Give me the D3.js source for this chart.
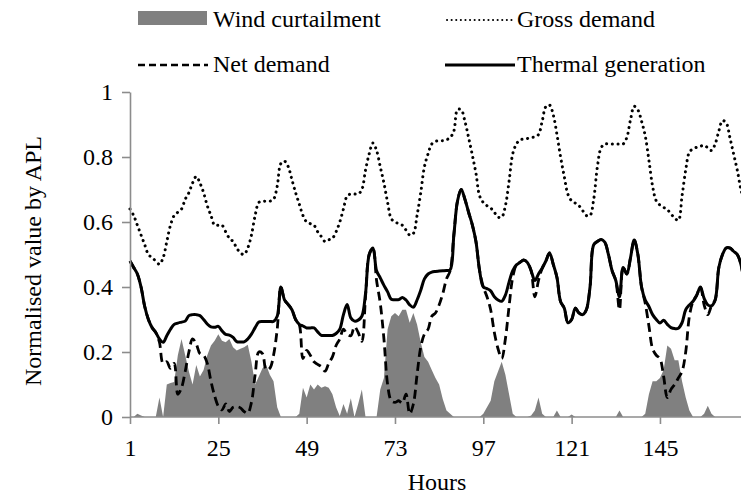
<!DOCTYPE html>
<html lang="en">
<head>
<meta charset="UTF-8">
<title>Wind curtailment</title>
<style>
  body { margin: 0; background: #fff; }
  svg text { font-family: "Liberation Serif", "Times New Roman", serif; fill: #000; }
</style>
</head>
<body>
<script src="https://d3js.org/d3.v7.min.js"></script>
<script>
// hours of the week
const hours = d3.range(1, 169);
const xTicks = [1, 25, 49, 73, 97, 121, 145];
const yTicks = [0, 0.2, 0.4, 0.6, 0.8, 1];

const windCurtailment = [
  0, 0, 0.01, 0.005, 0, 0, 0, 0, 0.06, 0,
  0.10, 0.105, 0.108, 0.19, 0.24, 0.19, 0.14, 0.10, 0.16, 0.125,
  0.145, 0.19, 0.22, 0.235, 0.255, 0.235, 0.23, 0.24, 0.215, 0.205,
  0.21, 0.215, 0.222, 0.17, 0.10, 0.125, 0.15, 0.16, 0.13, 0.11,
  0.03, 0, 0, 0, 0, 0, 0.01, 0.09, 0.06, 0.10,
  0.085, 0.10, 0.09, 0.095, 0.09, 0.07, 0.03, 0.003, 0.04, 0.01,
  0.058, 0, 0.04, 0.085, 0, 0, 0, 0, 0.085, 0.12,
  0.27, 0.31, 0.32, 0.31, 0.33, 0.33, 0.29, 0.32, 0.285, 0.23,
  0.185, 0.17, 0.145, 0.12, 0.10, 0.055, 0.02, 0.01, 0, 0,
  0, 0, 0, 0, 0, 0, 0.01, 0.03, 0.05, 0.11,
  0.14, 0.17, 0.13, 0.07, 0.01, 0, 0, 0, 0, 0.005,
  0.02, 0.06, 0.01, 0, 0, 0, 0.02, 0, 0, 0,
  0.008, 0, 0, 0, 0, 0, 0, 0, 0, 0,
  0, 0, 0, 0.02, 0, 0, 0, 0, 0, 0,
  0.01, 0.07, 0.11, 0.11, 0.12, 0.145, 0.22, 0.21, 0.175, 0.175,
  0.11, 0.06, 0.02, 0, 0, 0, 0.01, 0.035, 0.01, 0,
  0, 0, 0, 0, 0, 0, 0, 0
];

const grossDemand = [
  0.64, 0.62, 0.59, 0.56, 0.53, 0.50, 0.49, 0.48, 0.47, 0.49,
  0.54, 0.59, 0.62, 0.63, 0.64, 0.67, 0.69, 0.72, 0.74, 0.72,
  0.69, 0.65, 0.62, 0.59, 0.59, 0.59, 0.57, 0.55, 0.54, 0.52,
  0.505, 0.50, 0.52, 0.56, 0.62, 0.66, 0.664, 0.664, 0.664, 0.67,
  0.71, 0.78, 0.787, 0.77, 0.73, 0.69, 0.655, 0.62, 0.60, 0.595,
  0.59, 0.57, 0.555, 0.54, 0.545, 0.55, 0.57, 0.60, 0.64, 0.68,
  0.686, 0.686, 0.686, 0.70, 0.76, 0.81, 0.843, 0.82, 0.77, 0.72,
  0.66, 0.61, 0.60, 0.595, 0.59, 0.575, 0.56, 0.565, 0.62, 0.69,
  0.77, 0.81, 0.84, 0.848, 0.85, 0.85, 0.853, 0.86, 0.88, 0.946,
  0.945, 0.91, 0.86, 0.807, 0.75, 0.68, 0.66, 0.65, 0.643, 0.63,
  0.615, 0.615, 0.65, 0.725, 0.81, 0.84, 0.853, 0.855, 0.857, 0.86,
  0.862, 0.869, 0.91, 0.955, 0.96, 0.93, 0.87, 0.80, 0.74, 0.685,
  0.665, 0.658, 0.65, 0.635, 0.62, 0.62, 0.67, 0.77, 0.828, 0.84,
  0.84, 0.84, 0.84, 0.84, 0.84, 0.86, 0.915, 0.956, 0.945, 0.91,
  0.865, 0.79, 0.71, 0.665, 0.652, 0.645, 0.638, 0.625, 0.612, 0.605,
  0.68, 0.76, 0.815, 0.825, 0.83, 0.833, 0.836, 0.828, 0.82, 0.84,
  0.88, 0.912, 0.905, 0.86, 0.81, 0.76, 0.70, 0.66
];

const netDemand = [
  0.48, 0.46, 0.44, 0.40, 0.34, 0.30, 0.275, 0.26, 0.23, 0.165,
  0.17, 0.15, 0.165, 0.07, 0.09, 0.14, 0.20, 0.24, 0.225, 0.195,
  0.19, 0.165, 0.11, 0.065, 0.033, 0.022, 0.04, 0.017, 0.03, 0.032,
  0.028, 0.017, 0.012, 0.045, 0.13, 0.20, 0.195, 0.145, 0.15, 0.19,
  0.27, 0.40, 0.36, 0.346, 0.33, 0.30, 0.284, 0.18, 0.205, 0.19,
  0.17, 0.162, 0.155, 0.141, 0.165, 0.185, 0.22, 0.24, 0.27, 0.255,
  0.25, 0.278, 0.26, 0.233, 0.37, 0.50, 0.52, 0.42, 0.35, 0.24,
  0.10, 0.05, 0.045, 0.05, 0.043, 0.07, 0.01, 0.04, 0.13, 0.215,
  0.255, 0.27, 0.31, 0.32, 0.345, 0.38, 0.425, 0.45, 0.56, 0.665,
  0.70, 0.67, 0.63, 0.592, 0.54, 0.45, 0.40, 0.37, 0.33, 0.26,
  0.21, 0.18, 0.24, 0.34, 0.43, 0.468, 0.476, 0.483, 0.475, 0.45,
  0.37, 0.42, 0.458, 0.48, 0.505, 0.47, 0.43, 0.355, 0.335, 0.29,
  0.30, 0.335, 0.32, 0.315, 0.33, 0.40, 0.53, 0.54, 0.546, 0.538,
  0.50, 0.45, 0.42, 0.33, 0.46, 0.44, 0.49, 0.545, 0.50, 0.40,
  0.35, 0.28, 0.21, 0.19, 0.18, 0.125, 0.06, 0.085, 0.10, 0.12,
  0.14, 0.20, 0.31, 0.356, 0.375, 0.40, 0.345, 0.315, 0.342, 0.36,
  0.46, 0.50, 0.52, 0.52, 0.51, 0.50, 0.47, 0.40
];

const thermalGeneration = [
  0.48, 0.46, 0.44, 0.40, 0.34, 0.30, 0.275, 0.26, 0.24, 0.23,
  0.25, 0.27, 0.285, 0.289, 0.292, 0.295, 0.312, 0.315, 0.315, 0.312,
  0.30, 0.286, 0.277, 0.276, 0.279, 0.265, 0.254, 0.252, 0.245, 0.232,
  0.231, 0.231, 0.24, 0.255, 0.275, 0.292, 0.294, 0.294, 0.294, 0.294,
  0.31, 0.40, 0.36, 0.346, 0.33, 0.30, 0.285, 0.28, 0.274, 0.274,
  0.274, 0.262, 0.251, 0.251, 0.251, 0.251, 0.257, 0.27, 0.315, 0.346,
  0.305, 0.295, 0.298, 0.31, 0.38, 0.50, 0.52, 0.45, 0.428, 0.405,
  0.385, 0.362, 0.361, 0.361, 0.368, 0.36, 0.345, 0.338, 0.36, 0.39,
  0.425, 0.44, 0.446, 0.448, 0.449, 0.45, 0.451, 0.453, 0.56, 0.665,
  0.70, 0.67, 0.63, 0.592, 0.54, 0.45, 0.40, 0.395, 0.388, 0.37,
  0.36, 0.356, 0.375, 0.415, 0.45, 0.468, 0.476, 0.483, 0.475, 0.45,
  0.42, 0.44, 0.458, 0.48, 0.505, 0.47, 0.43, 0.355, 0.335, 0.29,
  0.30, 0.335, 0.32, 0.315, 0.33, 0.40, 0.53, 0.54, 0.546, 0.538,
  0.50, 0.45, 0.42, 0.37, 0.46, 0.44, 0.49, 0.545, 0.50, 0.40,
  0.36, 0.34, 0.315, 0.30, 0.289, 0.298, 0.285, 0.275, 0.272, 0.273,
  0.29, 0.33, 0.345, 0.356, 0.375, 0.40, 0.365, 0.345, 0.342, 0.36,
  0.46, 0.50, 0.52, 0.52, 0.51, 0.50, 0.47, 0.40
];

const w = 741, h = 498;
const fs = 24;
const axisGrey = "#8c8c8c";

const svg = d3.select("body").append("svg")
  .attr("width", w)
  .attr("height", h);

const x = d3.scaleLinear().domain([1, 168]).range([130, 744.6]);
const y = d3.scaleLinear().domain([0, 1]).range([417, 92]);

const pts = arr => arr.map((v, i) => [hours[i], v]);

// wind curtailment area
svg.append("path")
  .datum(pts(windCurtailment))
  .attr("fill", "#808080")
  .attr("d", d3.area().x(d => x(d[0])).y0(y(0)).y1(d => y(d[1])));

const line = d3.line().x(d => x(d[0])).y(d => y(d[1])).curve(d3.curveCatmullRom.alpha(0.5));

svg.append("path").datum(pts(grossDemand))
  .attr("fill", "none").attr("stroke", "#000")
  .attr("stroke-width", 3).attr("stroke-linecap", "round")
  .attr("stroke-dasharray", "0.1 5.6")
  .attr("d", line);

svg.append("path").datum(pts(netDemand))
  .attr("fill", "none").attr("stroke", "#000")
  .attr("stroke-width", 2.8)
  .attr("stroke-dasharray", "9 5")
  .attr("d", line);

svg.append("path").datum(pts(thermalGeneration))
  .attr("fill", "none").attr("stroke", "#000")
  .attr("stroke-width", 3)
  .attr("d", line);

// axes
const xAxis = svg.append("g")
  .attr("transform", `translate(0,${y(0)})`)
  .call(d3.axisBottom(x).tickValues(xTicks).tickFormat(d3.format("d")).tickSize(7).tickSizeOuter(0));
xAxis.select(".domain").attr("d", `M130,0H741`);
xAxis.selectAll("text")
  .attr("y", 39).attr("dy", 0)
  .attr("font-size", fs);

const yAxis = svg.append("g")
  .attr("transform", `translate(${x(1)},0)`)
  .call(d3.axisLeft(y).tickValues(yTicks).tickFormat(d => d).tickSize(8).tickSizeOuter(0));
yAxis.selectAll("text")
  .attr("x", -17).attr("dy", "0.33em")
  .attr("font-size", fs);

svg.selectAll(".domain, .tick line")
  .attr("stroke", axisGrey).attr("stroke-width", 1.6);

// axis titles
svg.append("text")
  .attr("x", 437).attr("y", 490)
  .attr("text-anchor", "middle")
  .attr("font-size", fs)
  .text("Hours");

svg.append("text")
  .attr("transform", "translate(41,261) rotate(-90)")
  .attr("text-anchor", "middle")
  .attr("font-size", fs)
  .text("Normalised value by APL");

// legend
const legend = svg.append("g");
legend.append("rect").attr("x", 138).attr("y", 11).attr("width", 69).attr("height", 14).attr("fill", "#808080");
legend.append("line").attr("x1", 447).attr("x2", 513).attr("y1", 20).attr("y2", 20)
  .attr("stroke", "#000").attr("stroke-width", 2).attr("stroke-linecap", "round").attr("stroke-dasharray", "0.1 4.5");
legend.append("line").attr("x1", 138).attr("x2", 208).attr("y1", 65).attr("y2", 65)
  .attr("stroke", "#000").attr("stroke-width", 2.6).attr("stroke-dasharray", "7 4");
legend.append("line").attr("x1", 445).attr("x2", 515).attr("y1", 65).attr("y2", 65)
  .attr("stroke", "#000").attr("stroke-width", 3);

const legendText = [
  ["Wind curtailment", 213, 27],
  ["Gross demand", 517, 27],
  ["Net demand", 213, 72],
  ["Thermal generation", 517, 72]
];
legend.selectAll("text.lt").data(legendText).enter().append("text")
  .attr("class", "lt")
  .attr("x", d => d[1]).attr("y", d => d[2])
  .attr("font-size", fs)
  .text(d => d[0]);
</script>
</body>
</html>
